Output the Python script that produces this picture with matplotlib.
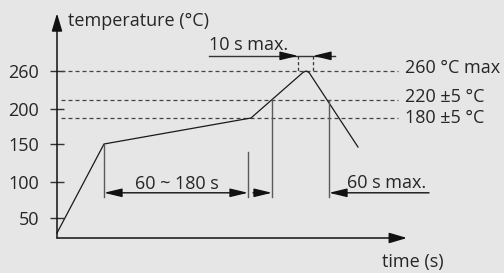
import numpy as np
import matplotlib.pyplot as plt

plt.rcParams['font.family'] = ['Open Sans', 'DejaVu Sans']

# Schematic reflow profile (time in drawing units, temperature in degC)
profile_time = [0, 47, 194, 246, 249, 252, 301]
profile_temp = [25, 150, 180, 258, 260, 258, 146]

ytick_values = [50, 100, 150, 200, 260]
ytick_labels = ['50', '100', '150', '200', '260']

# Reference levels
level_temps = [260, 220, 180]
level_labels = ['260 °C max', '220 ±5 °C', '180 ±5 °C']

# Marked times on the profile
t_preheat = [47, 191]      # 60 ~ 180 s
t_above = [215, 272]       # 60 s max.
t_peak = [241, 256]        # 10 s max.

# the drawing is not to scale: piecewise mapping of temperature to height
scale_temp = [-60, 0, 25, 50, 100, 150, 180, 200, 220, 260, 400]
scale_height = [-36, 0, 5, 20, 56, 94, 120, 129, 138, 167, 268]


def fwd(v):
    return np.interp(v, scale_temp, scale_height)


def inv(v):
    return np.interp(v, scale_height, scale_temp)


bg = '#e6e6e6'
ink = '#262626'
fs = 13
fig = plt.figure(figsize=(5.04, 2.73), dpi=100, facecolor=bg)
ax = fig.add_axes([0, 0, 1, 1])
ax.patch.set_visible(False)
ax.set_yscale('function', functions=(fwd, inv))
ax.set_xlim(-57, 447)
ax.set_ylim(inv(-35), inv(238))

for s in ax.spines.values():
    s.set_visible(False)
ax.spines['left'].set_position(('data', 0))
ax.set_xticks([])
ax.set_yticks(ytick_values, ytick_labels)
ax.yaxis.set_minor_locator(plt.NullLocator())
ax.tick_params(axis='y', direction='inout', length=9.4, width=1.0,
               color='#333333', labelcolor=ink, labelsize=fs, pad=8.0)

# axes with arrow heads
axis_arrow = dict(arrowstyle='-|>,head_length=1.08,head_width=0.32',
                  color='#111111', lw=1.1, shrinkA=0, shrinkB=0)
ax.annotate('', xy=(0, 340), xytext=(0, 0), arrowprops=axis_arrow)
ax.annotate('', xy=(350, 0), xytext=(0, 0), arrowprops=axis_arrow)

# dashed reference levels
for temp, lab, dy in zip(level_temps, level_labels, [-1.5, -1.5, -3.6]):
    ax.plot([4, 341], [temp, temp], color='#444444', lw=0.9,
            linestyle=(0, (3.2, 2.4)))
    ax.annotate(lab, xy=(348, temp), xytext=(0, dy), textcoords='offset points',
                ha='left', va='baseline', fontsize=fs, color=ink)

# profile curve
ax.plot(profile_time, profile_temp, color='#1a1a1a', lw=0.9)

# dimension lines
dim_low = 79
ax.plot([t_preheat[0]] * 2, [150, dim_low], color='#5a5a5a', lw=1.0)
ax.plot([t_preheat[1]] * 2, [139, dim_low], color='#5a5a5a', lw=1.0)
ax.plot([t_above[0]] * 2, [220, dim_low], color='#5a5a5a', lw=1.0)
ax.plot([t_above[1]] * 2, [220, dim_low], color='#5a5a5a', lw=1.0)

dim_y = 85
both = dict(arrowstyle='<|-|>,head_length=1.08,head_width=0.26',
            color='#111111', lw=1.0, shrinkA=0, shrinkB=0)
one = dict(arrowstyle='-|>,head_length=1.08,head_width=0.26',
           color='#111111', lw=1.0, shrinkA=0, shrinkB=0)
ax.annotate('', xy=(t_preheat[0], dim_y), xytext=(t_preheat[1], dim_y), arrowprops=both)
ax.annotate('', xy=(t_above[0], dim_y), xytext=(196, dim_y), arrowprops=one)
ax.annotate('', xy=(t_above[1], dim_y), xytext=(372, dim_y), arrowprops=one)
ax.text(120, 90, '60 ~ 180 s', ha='center', va='baseline', fontsize=fs, color=ink)
ax.text(290, 92, '60 s max.', ha='left', va='baseline', fontsize=fs, color=ink)

# peak time window
top_y = 281
ax.plot([152, 278], [top_y, top_y], color='#333333', lw=1.0)
ax.annotate('', xy=(t_peak[0], top_y), xytext=(228, top_y), arrowprops=one)
ax.annotate('', xy=(t_peak[1], top_y), xytext=(271, top_y), arrowprops=one)
for t in t_peak:
    ax.plot([t, t], [top_y, 260], color='#333333', lw=0.9, linestyle=(0, (2.5, 2)))
ax.text(152, 289, '10 s max.', ha='left', va='baseline', fontsize=fs, color=ink)

ax.text(11, 322, 'temperature (°C)', ha='left', va='baseline', fontsize=fs, color=ink)
ax.text(356, -48, 'time (s)', ha='center', va='baseline', fontsize=fs, color=ink)

fig.savefig('out.png', dpi=100, facecolor=bg)
